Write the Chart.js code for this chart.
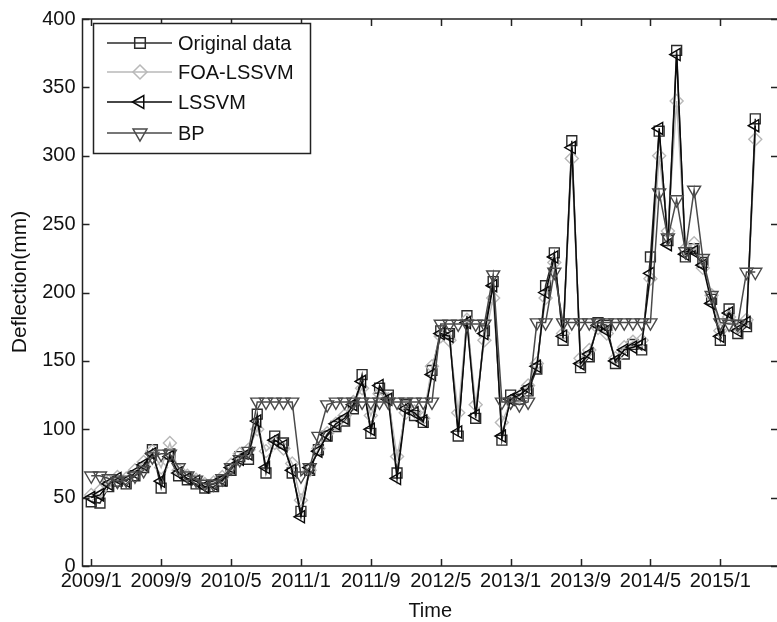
<!DOCTYPE html>
<html>
<head>
<meta charset="utf-8">
<script src="https://cdn.jsdelivr.net/npm/chart.js@4/dist/chart.umd.min.js"></script>
<style>
  html, body { margin: 0; padding: 0; background: #fff; overflow: hidden; width: 777px; height: 622px; }
  canvas { display: block; }
</style>
</head>
<body>
<canvas id="c" width="790" height="622"></canvas>
<script>
// Monthly deflection (mm); index 0 = 2009/1
const original = [47, 46, 58, 62, 60, 66, 72, 85, 57, 82, 66, 63, 60, 57, 58, 62, 70, 80, 78, 111,
  68, 95, 90, 68, 40, 70, 85, 95, 102, 106, 115, 140, 97, 130, 125, 68, 118, 110, 105, 143,
  172, 170, 95, 183, 108, 172, 208, 92, 125, 122, 128, 144, 205, 229, 165, 311, 145, 153, 178, 176,
  148, 155, 162, 158, 226, 318, 238, 377, 226, 232, 222, 195, 165, 188, 170, 175, 327];
const foaLssvm = [52, 55, 62, 65, 64, 70, 76, 84, 72, 90, 70, 66, 63, 60, 61, 65, 74, 82, 85, 100,
  84, 90, 86, 75, 48, 70, 86, 97, 104, 110, 120, 130, 110, 126, 122, 80, 112, 113, 108, 146,
  168, 165, 112, 180, 118, 165, 196, 105, 120, 124, 132, 148, 196, 222, 170, 298, 152, 158, 174, 170,
  152, 160, 164, 165, 210, 300, 245, 340, 232, 236, 218, 198, 172, 182, 175, 180, 312];
const lssvm = [50, 52, 60, 64, 62, 68, 74, 82, 62, 80, 68, 64, 62, 58, 60, 63, 72, 78, 82, 106,
  72, 92, 88, 70, 36, 72, 84, 96, 104, 108, 118, 135, 100, 132, 122, 64, 115, 112, 106, 140,
  170, 168, 98, 178, 110, 170, 205, 95, 122, 125, 130, 146, 200, 226, 168, 306, 148, 155, 176, 172,
  150, 158, 160, 162, 214, 320, 235, 374, 228, 230, 220, 192, 168, 185, 172, 178, 322];
const bp = [66, 66, 64, 62, 63, 66, 70, 80, 82, 82, 72, 66, 63, 60, 60, 64, 72, 78, 84, 120,
  120, 120, 120, 120, 66, 72, 95, 118, 120, 120, 120, 120, 120, 120, 120, 120, 120, 120, 120, 120,
  177, 177, 177, 177, 177, 177, 213, 120, 120, 118, 120, 178, 178, 215, 178, 178, 178, 178, 178, 178,
  178, 178, 178, 178, 178, 273, 240, 268, 230, 275, 225, 198, 178, 177, 177, 215, 215];

const seriesNames = ['Original data', 'FOA-LSSVM', 'LSSVM', 'BP'];
const tickMonths = [0, 8, 16, 24, 32, 40, 48, 56, 64, 72];
const tickLabels = ['2009/1', '2009/9', '2010/5', '2011/1', '2011/9', '2012/5', '2013/1', '2013/9', '2014/5', '2015/1'];
const yTicks = [0, 50, 100, 150, 200, 250, 300, 350, 400];
const xTitle = 'Time';
const yTitle = 'Deflection(mm)';

const FONT = "'Liberation Sans', Arial, sans-serif";
const TEXT = '#111';

const styles = [
  { color: '#2b2b2b', pointStyle: 'rect', rotation: 0, radius: 7 },
  { color: '#b8b8b8', pointStyle: 'rectRot', rotation: 0, radius: 6.5 },
  { color: '#0a0a0a', pointStyle: 'triangle', rotation: -90, radius: 7 },
  { color: '#4a4a4a', pointStyle: 'triangle', rotation: 180, radius: 7.5 }
];
const drawOrder = [3, 2, 1, 0];

const toXY = arr => arr.map((v, i) => ({ x: i, y: v }));
const values = [original, foaLssvm, lssvm, bp];

const datasets = values.map((arr, k) => ({
  label: seriesNames[k],
  data: toXY(arr),
  borderColor: styles[k].color,
  borderWidth: 1.5,
  pointStyle: styles[k].pointStyle,
  pointRotation: styles[k].rotation,
  pointRadius: styles[k].radius,
  pointBorderColor: styles[k].color,
  pointBackgroundColor: 'rgba(0,0,0,0)',
  pointBorderWidth: 1.4,
  tension: 0,
  fill: false,
  order: drawOrder[k]
}));

// Marker outline, same geometry as Chart.js point styles
function marker(ctx, style, rotation, r, x, y) {
  let rad = rotation * Math.PI / 180;
  ctx.beginPath();
  if (style === 'rect') {
    const s = Math.SQRT1_2 * r;
    ctx.rect(x - s, y - s, 2 * s, 2 * s);
  } else if (style === 'rectRot') {
    ctx.moveTo(x, y - r); ctx.lineTo(x + r, y); ctx.lineTo(x, y + r); ctx.lineTo(x - r, y); ctx.closePath();
  } else {
    ctx.moveTo(x + Math.sin(rad) * r, y - Math.cos(rad) * r);
    rad += 2 * Math.PI / 3;
    ctx.lineTo(x + Math.sin(rad) * r, y - Math.cos(rad) * r);
    rad += 2 * Math.PI / 3;
    ctx.lineTo(x + Math.sin(rad) * r, y - Math.cos(rad) * r);
    ctx.closePath();
  }
  ctx.stroke();
}

const framePlugin = {
  id: 'frame',
  afterDatasetsDraw(chart) {
    const { ctx, chartArea: { left, right, top, bottom }, scales: { x, y } } = chart;
    ctx.save();
    ctx.strokeStyle = '#222';
    ctx.lineWidth = 1.5;
    ctx.strokeRect(left, top, right - left, bottom - top);
    ctx.beginPath();
    tickMonths.forEach(m => {
      const px = Math.round(x.getPixelForValue(m)) + 0.5;
      ctx.moveTo(px, bottom); ctx.lineTo(px, bottom - 7);
      ctx.moveTo(px, top); ctx.lineTo(px, top + 7);
    });
    yTicks.forEach(v => {
      const py = Math.round(y.getPixelForValue(v)) + 0.5;
      ctx.moveTo(left, py); ctx.lineTo(left + 7, py);
      ctx.moveTo(right, py); ctx.lineTo(right - 7, py);
    });
    ctx.stroke();
    // vertical axis title
    ctx.fillStyle = TEXT;
    ctx.font = '21px ' + FONT;
    ctx.textAlign = 'center';
    ctx.textBaseline = 'middle';
    ctx.translate(20, 282);
    ctx.rotate(-Math.PI / 2);
    ctx.fillText(yTitle, 0, 0);
    ctx.restore();
  }
};

const legendPlugin = {
  id: 'boxLegend',
  afterDraw(chart) {
    const ctx = chart.ctx;
    const x0 = 93.5, y0 = 23.5, w = 217, h = 130;
    ctx.save();
    ctx.fillStyle = '#fff';
    ctx.fillRect(x0, y0, w, h);
    ctx.strokeStyle = '#222';
    ctx.lineWidth = 1.5;
    ctx.strokeRect(x0, y0, w, h);
    const rows = [43, 72, 102, 133];
    chart.data.datasets.forEach((ds, k) => {
      const ry = rows[k];
      ctx.strokeStyle = ds.borderColor;
      ctx.lineWidth = 1.5;
      ctx.beginPath();
      ctx.moveTo(107, ry); ctx.lineTo(172, ry);
      ctx.stroke();
      ctx.fillStyle = '#fff';
      marker(ctx, ds.pointStyle, ds.pointRotation, ds.pointRadius + 0.5, 140, ry);
      ctx.fillStyle = TEXT;
      ctx.font = '20px ' + FONT;
      ctx.textBaseline = 'middle';
      ctx.textAlign = 'left';
      ctx.fillText(ds.label, 178, ry + 1);
    });
    ctx.restore();
  }
};

new Chart(document.getElementById('c'), {
  type: 'line',
  data: { datasets },
  options: {
    responsive: false,
    animation: false,
    events: [],
    layout: { padding: { top: 16, right: 12, left: 0, bottom: 0 } },
    plugins: { legend: { display: false }, tooltip: { enabled: false } },
    scales: {
      x: {
        type: 'linear',
        min: -1,
        max: 78.6,
        grid: { display: false, drawTicks: false },
        border: { display: false },
        afterBuildTicks: s => { s.ticks = tickMonths.map(v => ({ value: v })); },
        afterFit: s => { s.height = 56; },
        ticks: {
          autoSkip: false, maxRotation: 0, padding: 3,
          color: TEXT, font: { family: FONT, size: 20 },
          callback: (v, i) => tickLabels[i]
        },
        title: {
          display: true, text: xTitle, color: TEXT,
          font: { family: FONT, size: 20, lineHeight: 1 },
          padding: { top: 0, bottom: 1 }
        }
      },
      y: {
        min: 0,
        max: 400,
        grid: { display: false, drawTicks: false },
        border: { display: false },
        afterBuildTicks: s => { s.ticks = yTicks.map(v => ({ value: v })); },
        afterFit: s => { s.width = 82.5; },
        ticks: {
          padding: 7, color: TEXT, font: { family: FONT, size: 20 }
        },
        title: { display: false }
      }
    }
  },
  plugins: [framePlugin, legendPlugin]
});
</script>
</body>
</html>
